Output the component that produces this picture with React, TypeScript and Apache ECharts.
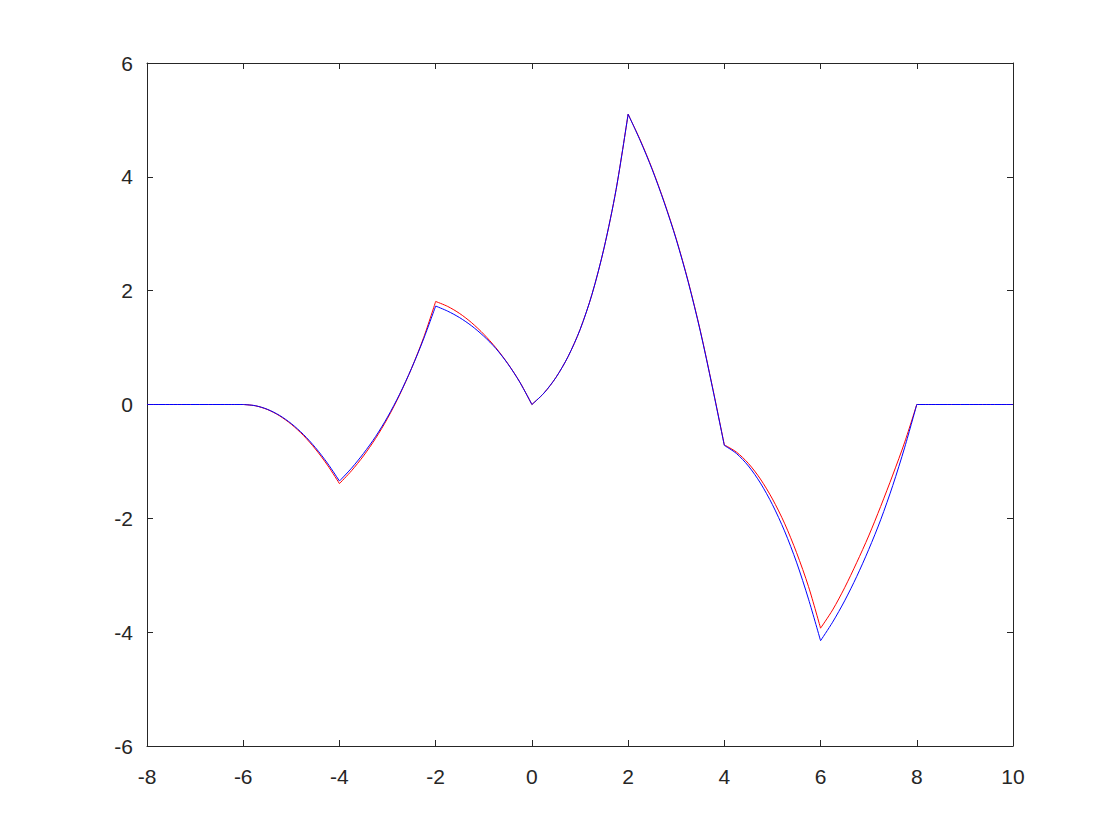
import React, { useEffect, useRef } from "react";
import * as echarts from "echarts";

const xValues = [
  -8,
  -6, -5.75, -5.5, -5.25, -5, -4.75, -4.5, -4.25, -4,
  -3.75, -3.5, -3.25, -3, -2.75, -2.5, -2.25, -2,
  -1.75, -1.5, -1.25, -1, -0.75, -0.5, -0.25, 0,
  0.25, 0.5, 0.75, 1, 1.25, 1.5, 1.75, 2,
  2.25, 2.5, 2.75, 3, 3.25, 3.5, 3.75, 4,
  4.25, 4.5, 4.75, 5, 5.25, 5.5, 5.75, 6,
  6.25, 6.5, 6.75, 7, 7.25, 7.5, 7.75, 8,
  10,
];

const redValues = [
  0,
  0, -0.022, -0.087, -0.196, -0.348, -0.543, -0.782, -1.064, -1.39,
  -1.165, -0.903, -0.598, -0.243, 0.168, 0.638, 1.175, 1.81,
  1.723, 1.598, 1.435, 1.235, 0.998, 0.718, 0.393, 0,
  0.2, 0.475, 0.838, 1.313, 1.938, 2.75, 3.775, 5.1,
  4.65, 4.14, 3.56, 2.91, 2.16, 1.3, 0.32, -0.71,
  -0.835, -1.035, -1.31, -1.66, -2.085, -2.6, -3.2, -3.93,
  -3.61, -3.22, -2.78, -2.31, -1.79, -1.24, -0.66, 0,
  0,
];

const blueValues = [
  0,
  0, -0.021, -0.084, -0.189, -0.336, -0.525, -0.757, -1.03, -1.345,
  -1.12, -0.86, -0.565, -0.22, 0.18, 0.638, 1.153, 1.73,
  1.64, 1.525, 1.38, 1.2, 0.985, 0.715, 0.39, 0,
  0.2, 0.475, 0.838, 1.313, 1.938, 2.75, 3.775, 5.1,
  4.64, 4.13, 3.55, 2.9, 2.15, 1.29, 0.31, -0.72,
  -0.86, -1.08, -1.38, -1.76, -2.22, -2.77, -3.42, -4.15,
  -3.825, -3.45, -3.025, -2.55, -2.025, -1.425, -0.75, 0,
  0,
];

const segmentBreaks = [-8, -6, -4, -2, 0, 2, 4, 6, 8, 10];

const xTicks = { min: -8, max: 10, interval: 2 };
const yTicks = { min: -6, max: 6, interval: 2 };

function splitSegments(values: number[]) {
  const segs: number[][][] = [];
  for (let s = 0; s < segmentBreaks.length - 1; s++) {
    const a = segmentBreaks[s];
    const b = segmentBreaks[s + 1];
    const pts: number[][] = [];
    xValues.forEach((x, i) => {
      if (x >= a && x <= b) pts.push([x, values[i]]);
    });
    segs.push(pts);
  }
  return segs;
}

export default function App() {
  const ref = useRef<HTMLDivElement>(null);

  useEffect(() => {
    if (!ref.current) return;
    const chart = echarts.init(ref.current, null, { renderer: "svg" });
    const axisColor = "#262626";
    const font = "'Liberation Sans', Arial, Helvetica, sans-serif";
    const lineStyle = { color: axisColor, width: 1 };
    const tick = { show: true, inside: true, length: 6, lineStyle };

    const makeSeries = (values: number[], color: string, name: string) =>
      splitSegments(values).map((pts) => ({
        type: "line",
        name,
        data: pts,
        showSymbol: false,
        smooth: 0.3,
        lineStyle: { color, width: 1 },
        itemStyle: { color },
      }));

    chart.setOption({
      animation: false,
      backgroundColor: "#ffffff",
      grid: { left: 147, right: 107, top: 63, bottom: 94, containLabel: false },
      xAxis: [
        {
          type: "value",
          position: "bottom",
          ...xTicks,
          axisLine: { show: true, onZero: false, lineStyle },
          axisTick: tick,
          splitLine: { show: false },
          axisLabel: { color: axisColor, fontSize: 21, fontFamily: font, margin: 20 },
        },
        {
          type: "value",
          position: "top",
          ...xTicks,
          axisLine: { show: true, onZero: false, lineStyle },
          axisTick: tick,
          splitLine: { show: false },
          axisLabel: { show: false },
        },
      ],
      yAxis: [
        {
          type: "value",
          position: "left",
          ...yTicks,
          axisLine: { show: true, onZero: false, lineStyle },
          axisTick: tick,
          splitLine: { show: false },
          axisLabel: { color: axisColor, fontSize: 21, fontFamily: font, margin: 14 },
        },
        {
          type: "value",
          position: "right",
          ...yTicks,
          axisLine: { show: true, onZero: false, lineStyle },
          axisTick: tick,
          splitLine: { show: false },
          axisLabel: { show: false },
        },
      ],
      series: [
        ...makeSeries(redValues, "#ff0000", "red"),
        ...makeSeries(blueValues, "#0000ff", "blue"),
      ],
    });
    return () => chart.dispose();
  }, []);

  return (
    <div
      ref={ref}
      style={{ position: "fixed", left: 0, top: 0, width: 1120, height: 840, background: "#fff" }}
    />
  );
}
